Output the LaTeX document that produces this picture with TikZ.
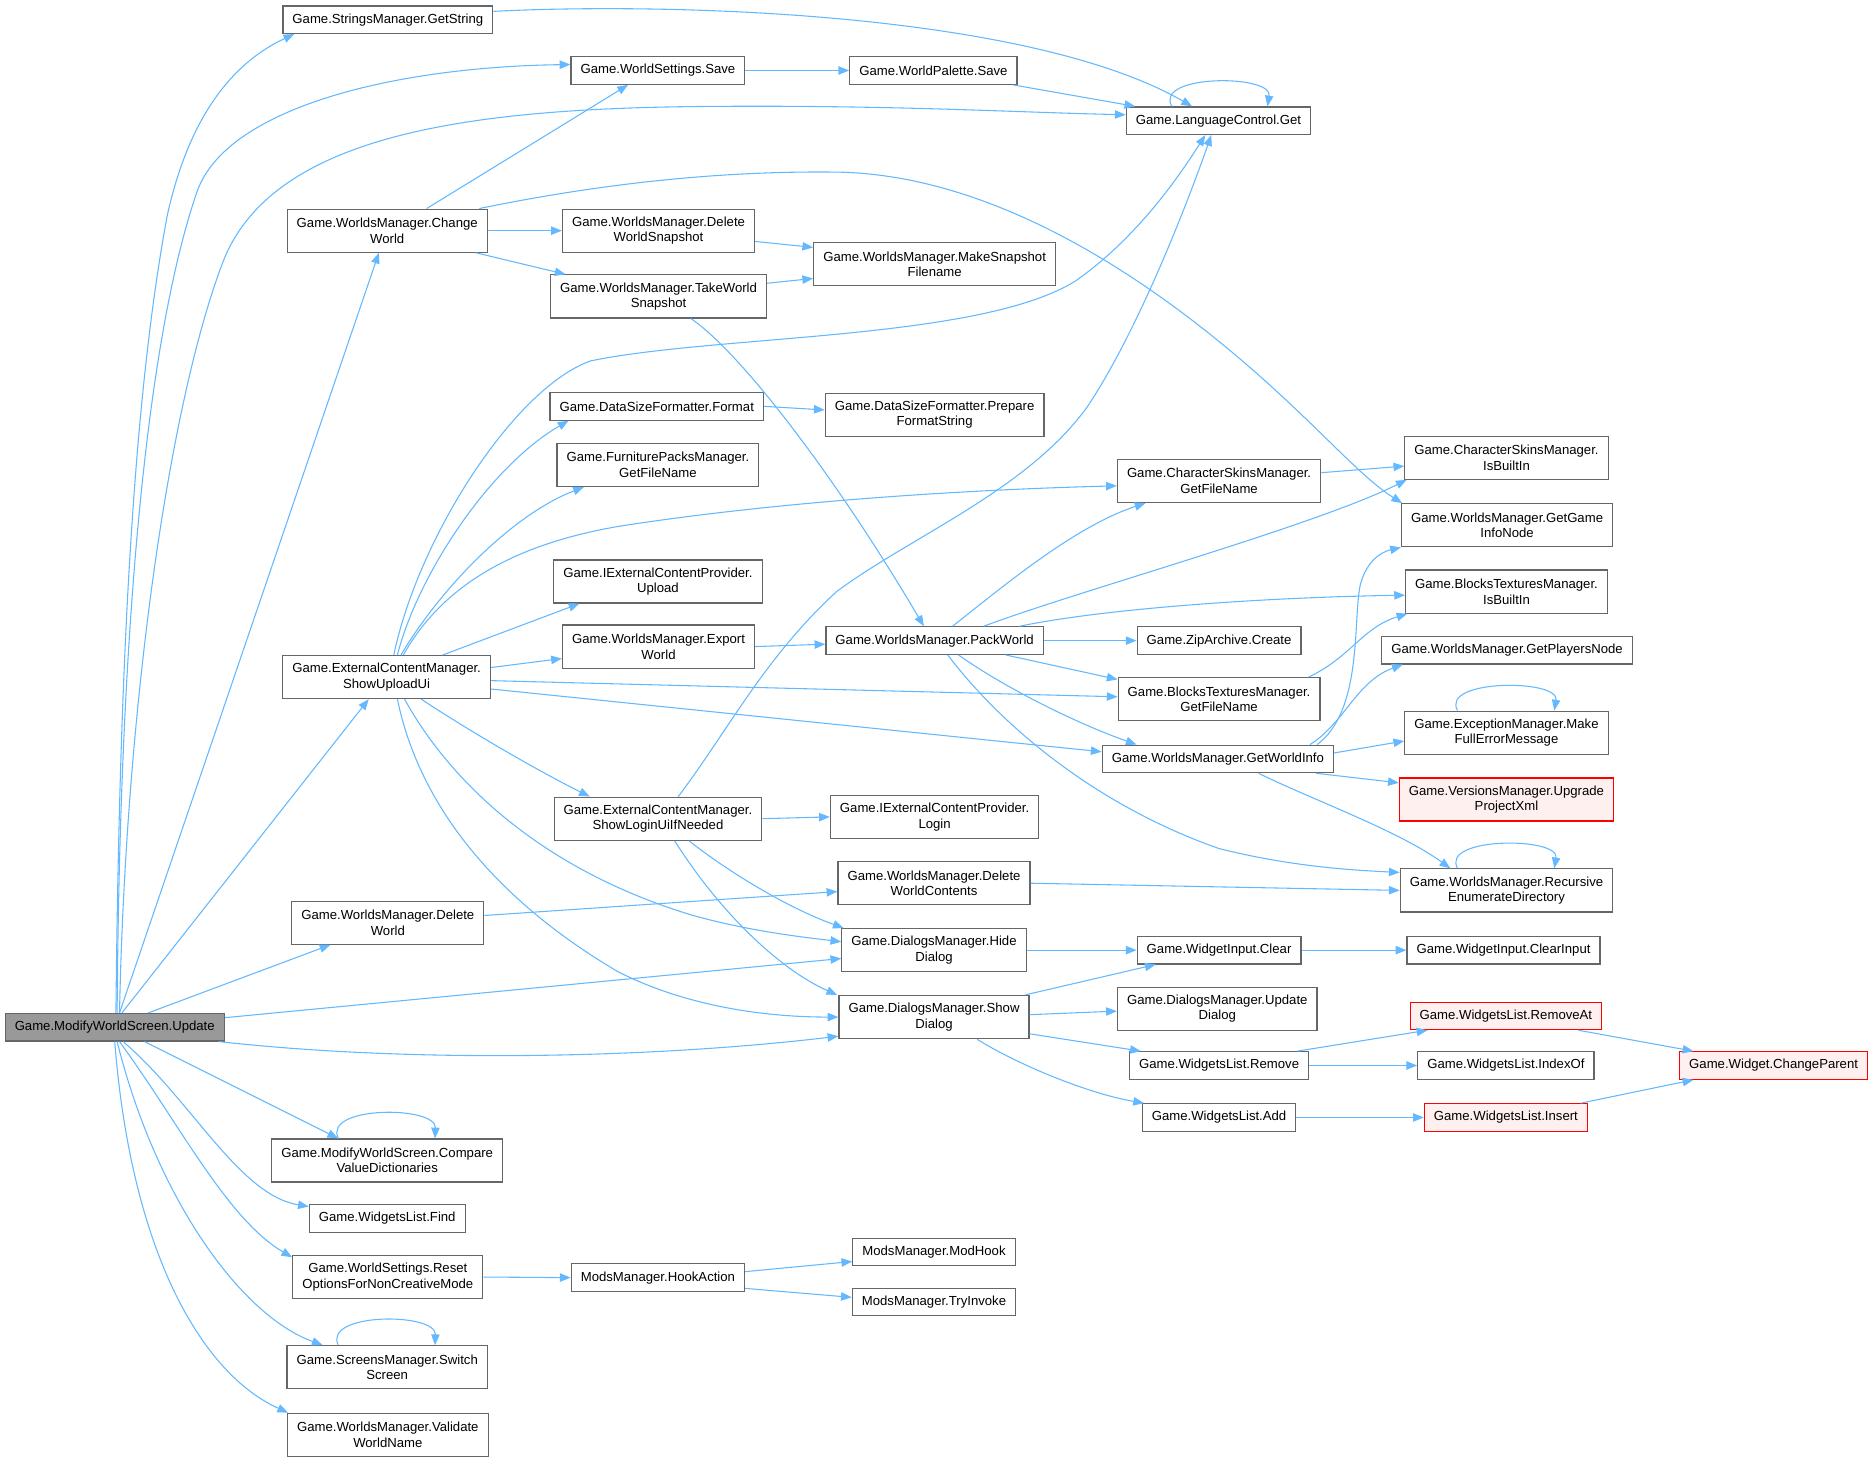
\documentclass[tikz,border=0pt]{standalone}
\usepackage{fontspec}
\setmainfont{Liberation Sans}
\usetikzlibrary{arrows.meta}
\definecolor{edgeblue}{HTML}{63B8FF}
\definecolor{boxgray}{HTML}{666666}
\definecolor{rootfill}{HTML}{999999}
\definecolor{redfill}{HTML}{FFF0F0}
\begin{document}
\begin{tikzpicture}[x=1pt,y=-1pt,fn/.style={shape=rectangle,draw=boxgray,line width=1pt,fill=white,inner xsep=8pt,inner ysep=0pt,minimum height=23pt,align=center,font=\fontsize{11}{13}\selectfont},fnn/.style={fn,minimum height=36pt},fnroot/.style={fn,fill=rootfill},fnred/.style={draw=red},call/.style={draw=edgeblue,line width=0.9pt,-{Triangle[length=9pt,width=7pt]}}]
\useasboundingbox (0,0) rectangle (1568,1223);

\node[fnroot] (U) at (96,859.5) {Game.ModifyWorldScreen.Update};

\node[fn] (GS) at (324.5,16.5) {Game.StringsManager.GetString};
\node[fn] (WSS) at (550.5,59) {Game.WorldSettings.Save};
\node[fn] (WPS) at (781,59) {Game.WorldPalette.Save};
\node[fn] (LCG) at (1019.5,101) {Game.LanguageControl.Get};
\node[fnn] (CW) at (324,193) {Game.WorldsManager.Change\\World};
\node[fnn] (DWS) at (551,193) {Game.WorldsManager.Delete\\WorldSnapshot};
\node[fnn] (MSF) at (782,221) {Game.WorldsManager.MakeSnapshot\\Filename};
\node[fnn] (TWS) at (551,248) {Game.WorldsManager.TakeWorld\\Snapshot};
\node[fn] (DSF) at (549.5,340) {Game.DataSizeFormatter.Format};
\node[fnn] (PFS) at (782,347) {Game.DataSizeFormatter.Prepare\\FormatString};
\node[fnn] (FPM) at (550.5,389) {Game.FurniturePacksManager.\\GetFileName};
\node[fnn] (CSG) at (1020,402.5) {Game.CharacterSkinsManager.\\GetFileName};
\node[fnn] (CSB) at (1260.5,383) {Game.CharacterSkinsManager.\\IsBuiltIn};
\node[fnn] (GGIN) at (1261,439.5) {Game.WorldsManager.GetGame\\InfoNode};
\node[fnn] (UPL) at (550.5,486.5) {Game.IExternalContentProvider.\\Upload};
\node[fnn] (BTB) at (1260.5,495) {Game.BlocksTexturesManager.\\IsBuiltIn};
\node[fnn] (SUU) at (323.5,566.5) {Game.ExternalContentManager.\\ShowUploadUi};
\node[fnn] (EW) at (551,541) {Game.WorldsManager.Export\\World};
\node[fn] (PW) at (782,536) {Game.WorldsManager.PackWorld};
\node[fn] (ZAC) at (1020,536) {Game.ZipArchive.Create};
\node[fn] (GPN) at (1261,544) {Game.WorldsManager.GetPlayersNode};
\node[fnn] (BTG) at (1020,585) {Game.BlocksTexturesManager.\\GetFileName};
\node[fnn] (MFEM) at (1260.5,613) {Game.ExceptionManager.Make\\FullErrorMessage};
\node[fn] (GWI) at (1019,635) {Game.WorldsManager.GetWorldInfo};
\node[fnn,fnred,fill=redfill] (UPX) at (1260.5,669) {Game.VersionsManager.Upgrade\\ProjectXml};
\node[fnn] (SLU) at (550.5,685) {Game.ExternalContentManager.\\ShowLoginUiIfNeeded};
\node[fnn] (LOG) at (782,683.5) {Game.IExternalContentProvider.\\Login};
\node[fnn] (DWC) at (781.5,739) {Game.WorldsManager.Delete\\WorldContents};
\node[fnn] (RED) at (1260.5,745) {Game.WorldsManager.Recursive\\EnumerateDirectory};
\node[fnn] (DW) at (324.5,772) {Game.WorldsManager.Delete\\World};
\node[fnn] (HD) at (781.5,795) {Game.DialogsManager.Hide\\Dialog};
\node[fn] (WIC) at (1020,795) {Game.WidgetInput.Clear};
\node[fn] (WCI) at (1258,795) {Game.WidgetInput.ClearInput};
\node[fnn] (UD) at (1018.5,844) {Game.DialogsManager.Update\\Dialog};
\node[fnn] (SD) at (781.5,851) {Game.DialogsManager.Show\\Dialog};
\node[fn,fnred,fill=redfill] (RMA) at (1260,850) {Game.WidgetsList.RemoveAt};
\node[fn] (RM) at (1020,891.5) {Game.WidgetsList.Remove};
\node[fn] (IDX) at (1260,891.5) {Game.WidgetsList.IndexOf};
\node[fn,fnred,fill=redfill] (CP) at (1484,891.5) {Game.Widget.ChangeParent};
\node[fn] (ADD) at (1020,935) {Game.WidgetsList.Add};
\node[fn,fnred,fill=redfill] (INS) at (1260,935) {Game.WidgetsList.Insert};
\node[fnn] (CVD) at (324,971) {Game.ModifyWorldScreen.Compare\\ValueDictionaries};
\node[fn] (FND) at (324,1019.5) {Game.WidgetsList.Find};
\node[fnn] (ROF) at (324.5,1068.5) {Game.WorldSettings.Reset\\OptionsForNonCreativeMode};
\node[fn] (HKA) at (550.5,1069) {ModsManager.HookAction};
\node[fn] (MHK) at (781.5,1047.5) {ModsManager.ModHook};
\node[fn] (TRY) at (781.5,1089.5) {ModsManager.TryInvoke};
\node[fnn] (SWS) at (324,1144) {Game.ScreensManager.Switch\\Screen};
\node[fnn] (VWN) at (324.5,1200.5) {Game.WorldsManager.Validate\\WorldName};

\draw[call] ([xshift=1pt]U.north) .. controls (100,550) and (112,330) .. (140,180) .. controls (160,90) and (200,50) .. ([xshift=10pt]GS.south west);
\draw[call] ([xshift=2pt]U.north) .. controls (100,550) and (120,290) .. (165,160) .. controls (190,90) and (330,56) .. ([yshift=5pt]WSS.west);
\draw[call] ([xshift=4pt]U.north) .. controls (105,600) and (140,340) .. (187,218) .. controls (230,110) and (400,90) .. (600,89) .. controls (750,88) and (850,94) .. ([yshift=5pt]LCG.west);
\draw[call] ([xshift=4pt]U.north) -- ([xshift=-7pt]CW.south);
\draw[call] ([xshift=6pt]U.north) -- ([xshift=-15pt]SUU.south);
\draw[call] ([xshift=28pt]U.north) -- ([xshift=-48pt]DW.south);
\draw[call] ([yshift=8pt]U.east) -- ([yshift=-7pt]HD.west);
\draw[call] ([xshift=-5pt]U.south east) .. controls (350,890) and (550,885) .. ([yshift=-16pt]SD.west);
\draw[call] ([xshift=25pt]U.south) -- ([xshift=-41pt]CVD.north);
\draw[call] ([xshift=7pt]U.south) .. controls (160,920) and (200,1000) .. ([yshift=-2pt]FND.north west);
\draw[call] ([xshift=4pt]U.south) .. controls (150,940) and (190,1020) .. ([yshift=-2pt]ROF.north west);
\draw[call] ([xshift=2pt]U.south) .. controls (130,1000) and (200,1100) .. ([xshift=-54pt]SWS.north);
\draw[call] (U.south) .. controls (110,1050) and (170,1150) .. ([xshift=1pt]VWN.north west);

\draw[call] ([yshift=7pt]GS.east) .. controls (560,2) and (860,10) .. ([xshift=-22pt]LCG.north);
\draw[call] (WSS.east) -- (WPS.west);
\draw[call] ([xshift=-4pt]WPS.south east) -- ([xshift=8pt]LCG.north west);
\draw[call] ([xshift=-39pt]LCG.north) .. controls (965,62) and (1065,62) .. ([xshift=41pt]LCG.north);

\draw[call] ([xshift=33pt]CW.north) -- ([xshift=-25pt]WSS.south);
\draw[call] (CW.east) -- (DWS.west);
\draw[call] ([xshift=-10pt]CW.south east) -- ([xshift=13pt]TWS.north west);
\draw[call] ([xshift=77pt]CW.north) .. controls (520,150) and (620,143) .. (700,144) .. controls (830,146) and (960,230) .. (1060,320) .. controls (1110,365) and (1140,400) .. ([xshift=1pt]GGIN.north west);
\draw[call] ([yshift=-9pt]DWS.east) -- ([yshift=14pt]MSF.west);
\draw[call] ([yshift=11pt]TWS.east) -- ([yshift=-12pt]MSF.west);
\draw[call] ([xshift=27pt]TWS.south) .. controls (620,295) and (700,400) .. ([xshift=-9pt]PW.north);

\draw[call] ([xshift=6pt]SUU.north) .. controls (350,450) and (430,325) .. (494,302) .. controls (600,280) and (820,285) .. (900,235) .. controls (950,200) and (985,150) .. ([xshift=-11pt]LCG.south);
\draw[call] ([xshift=9pt]SUU.north) .. controls (350,480) and (410,390) .. ([xshift=16pt]DSF.south west);
\draw[call] ([xshift=12pt]SUU.north) .. controls (370,490) and (430,430) .. ([xshift=23pt]FPM.south west);
\draw[call] ([xshift=14pt]SUU.north) .. controls (370,490) and (430,455) .. (520,440) .. controls (650,420) and (800,410) .. ([yshift=-4pt]CSG.west);
\draw[call] ([xshift=47pt]SUU.north) -- ([xshift=22pt]UPL.south west);
\draw[call] ([yshift=8pt]SUU.east) -- ([yshift=-10pt]EW.west);
\draw[call] ([yshift=-3pt]SUU.east) -- ([yshift=2pt]BTG.west);
\draw[call] ([yshift=-10pt]SUU.east) -- ([yshift=6pt]GWI.west);
\draw[call] ([xshift=29pt]SUU.south) .. controls (390,610) and (450,645) .. ([xshift=-57pt]SLU.north);
\draw[call] ([xshift=15pt]SUU.south) .. controls (380,660) and (460,730) .. (580,766) .. controls (630,780) and (680,785) .. ([yshift=7pt]HD.west);
\draw[call] ([xshift=9pt]SUU.south) .. controls (350,670) and (410,750) .. (517,813) .. controls (580,845) and (650,851) .. (SD.west);

\draw[call] (DSF.east) -- ([yshift=4pt]PFS.west);
\draw[call] (EW.east) -- ([yshift=-3pt]PW.west);

\draw[call] ([xshift=15pt]PW.north) .. controls (840,490) and (900,440) .. ([xshift=24pt]CSG.south west);
\draw[call] ([xshift=41pt]PW.north) .. controls (900,495) and (1100,440) .. ([xshift=2pt]CSB.south west);
\draw[call] ([xshift=71pt]PW.north) .. controls (920,510) and (1050,500) .. ([yshift=-3pt]BTB.west);
\draw[call] (PW.east) -- (ZAC.west);
\draw[call] ([xshift=-32pt]PW.south east) -- ([yshift=-2pt]BTG.north west);
\draw[call] ([xshift=20pt]PW.south) .. controls (840,575) and (900,605) .. ([xshift=-68pt]GWI.north);
\draw[call] ([xshift=11pt]PW.south) .. controls (840,610) and (920,675) .. (1020,710) .. controls (1080,725) and (1130,728) .. ([yshift=15pt]RED.west);

\draw[call] ([yshift=7pt]CSG.east) -- ([yshift=-7pt]CSB.west);
\draw[call] ([xshift=-10pt]BTG.north east) .. controls (1130,550) and (1140,525) .. ([xshift=2pt]BTB.south west);

\draw[call] ([xshift=83pt]GWI.north) .. controls (1140,595) and (1132,520) .. (1138,490) .. controls (1143,470) and (1155,462) .. (GGIN.south west);
\draw[call] ([xshift=77pt]GWI.north) .. controls (1125,605) and (1135,570) .. ([xshift=18pt]GPN.south west);
\draw[call] ([yshift=5pt]GWI.east) -- ([yshift=-7pt]MFEM.west);
\draw[call] ([xshift=-15pt]GWI.south east) -- ([yshift=14pt]UPX.west);
\draw[call] ([xshift=34pt]GWI.south) .. controls (1100,670) and (1170,695) .. ([xshift=-47pt]RED.north);
\draw[call] ([xshift=-41pt]MFEM.north) .. controls (1205,568) and (1305,568) .. ([xshift=40pt]MFEM.north);
\draw[call] ([xshift=-41pt]RED.north) .. controls (1205,700) and (1305,700) .. ([xshift=40pt]RED.north);

\draw[call] ([xshift=17pt]SLU.north) .. controls (610,610) and (640,550) .. (700,495) .. controls (760,450) and (860,410) .. (910,340) .. controls (950,280) and (990,180) .. ([xshift=-6pt]LCG.south);
\draw[call] (SLU.east) -- (LOG.west);
\draw[call] ([xshift=26pt]SLU.south) .. controls (610,730) and (660,760) .. ([xshift=2pt]HD.north west);
\draw[call] ([xshift=14pt]SLU.south) .. controls (600,760) and (650,810) .. ([xshift=-1pt]SD.north west);

\draw[call] ([yshift=6pt]DW.east) -- ([yshift=-7pt]DWC.west);
\draw[call] (DWC.east) -- (RED.west);

\draw[call] (HD.east) -- (WIC.west);
\draw[call] (WIC.east) -- (WCI.west);
\draw[call] ([xshift=-4pt]SD.north east) -- ([xshift=16pt]WIC.south west);
\draw[call] ([yshift=2pt]SD.east) -- ([yshift=-2pt]UD.west);
\draw[call] ([yshift=-14pt]SD.east) -- ([xshift=10pt]RM.north west);
\draw[call] ([xshift=36pt]SD.south) .. controls (850,890) and (910,915) .. ([xshift=2pt]ADD.north west);

\draw[call] ([xshift=-10pt]RM.north east) -- ([xshift=15pt]RMA.south west);
\draw[call] (RM.east) -- (IDX.west);
\draw[call] (ADD.east) -- (INS.west);
\draw[call] ([xshift=-20pt]RMA.south east) -- ([xshift=12pt]CP.north west);
\draw[call] ([xshift=-6pt]INS.north east) -- ([xshift=12pt]CP.south west);

\draw[call] ([xshift=-41pt]CVD.north) .. controls (270,925) and (365,925) .. ([xshift=40pt]CVD.north);
\draw[call] ([xshift=-41pt]SWS.north) .. controls (270,1098) and (365,1098) .. ([xshift=40pt]SWS.north);
\draw[call] (ROF.east) -- (HKA.west);
\draw[call] ([yshift=5pt]HKA.east) -- ([yshift=-8pt]MHK.west);
\draw[call] ([yshift=-9pt]HKA.east) -- ([yshift=4pt]TRY.west);
\end{tikzpicture}
\end{document}
